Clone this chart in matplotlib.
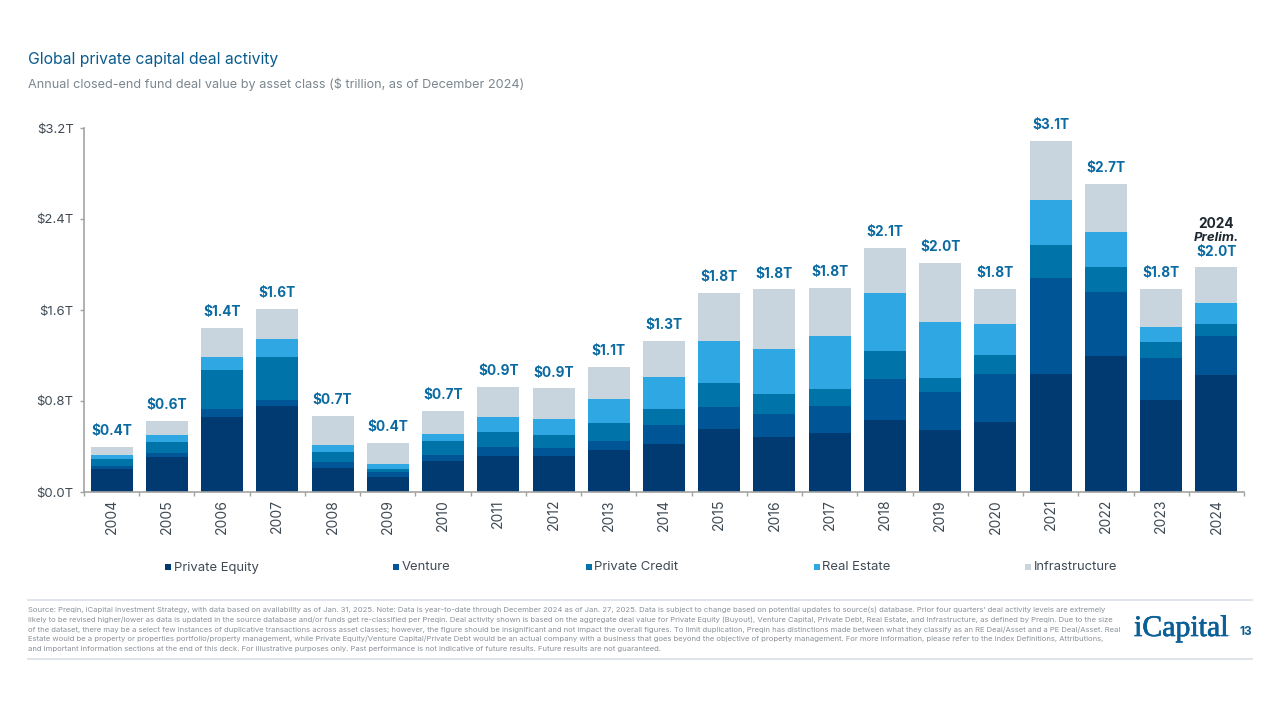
import matplotlib
matplotlib.use("Agg")
import matplotlib.pyplot as plt
import matplotlib.patheffects as pe
from matplotlib.patches import Rectangle
from matplotlib.lines import Line2D
import numpy as np

plt.rcParams["font.family"] = ["Inter", "DejaVu Sans"]

W, H = 1280, 720

# Data, $ trillion
years = [str(y) for y in range(2004, 2025)]
private_equity = [.202, .31, .662, .756, .214, .135, .27, .319, .314, .372, .422,
                  .551, .481, .516, .63, .545, .615, 1.037, 1.196, .809, 1.031]
venture = [.026, .03, .065, .053, .053, .041, .058, .076, .073, .076, .164,
           .196, .207, .243, .366, .331, .422, .841, .565, .367, .34]
private_credit = [.062, .099, .345, .381, .088, .029, .118, .129, .114, .158, .146,
                  .211, .173, .149, .244, .126, .164, .29, .22, .146, .103]
real_estate = [.038, .062, .117, .153, .062, .039, .064, .132, .143, .214, .276,
               .372, .398, .466, .507, .49, .275, .398, .302, .127, .185]
infrastructure = [.065, .126, .252, .264, .25, .185, .2, .266, .267, .279, .319,
                  .419, .522, .419, .398, .524, .31, .521, .425, .339, .316]
total_labels = ["$0.4T", "$0.6T", "$1.4T", "$1.6T", "$0.7T", "$0.4T", "$0.7T", "$0.9T",
                "$0.9T", "$1.1T", "$1.3T", "$1.8T", "$1.8T", "$1.8T", "$2.1T", "$2.0T",
                "$1.8T", "$3.1T", "$2.7T", "$1.8T", "$2.0T"]
y_ticks = [0, 0.8, 1.6, 2.4, 3.2]
y_labels = ["$0.0T", "$0.8T", "$1.6T", "$2.4T", "$3.2T"]

series = [
    ("Private Equity", private_equity, "#003a70"),
    ("Venture", venture, "#005596"),
    ("Private Credit", private_credit, "#0074a8"),
    ("Real Estate", real_estate, "#2ea7e3"),
    ("Infrastructure", infrastructure, "#c8d5df"),
]

footnote = [
    "Source: Preqin, iCapital Investment Strategy, with data based on availability as of Jan. 31, 2025. Note: Data is year-to-date through December 2024 as of Jan. 27, 2025. Data is subject to change based on potential updates to source(s) database. Prior four quarters\u2019 deal activity levels are extremely",
    "likely to be revised higher/lower as data is updated in the source database and/or funds get re-classified per Preqin. Deal activity shown is based on the aggregate deal value for Private Equity (Buyout), Venture Capital, Private Debt, Real Estate, and Infrastructure, as defined by Preqin. Due to the size",
    "of the dataset, there may be a select few instances of duplicative transactions across asset classes; however, the figure should be insignificant and not impact the overall figures. To limit duplication, Preqin has distinctions made between what they classify as an RE Deal/Asset and a PE Deal/Asset. Real",
    "Estate would be a property or properties portfolio/property management, while Private Equity/Venture Capital/Private Debt would be an actual company with a business that goes beyond the objective of property management. For more information, please refer to the Index Definitions, Attributions,",
    "and Important Information sections at the end of this deck. For illustrative purposes only. Past performance is not indicative of future results. Future results are not guaranteed.",
]


def fx(px):
    return px / W


def fy(px):
    return 1 - px / H


fig = plt.figure(figsize=(12.8, 7.2), dpi=100, facecolor="white")
ax = fig.add_axes([fx(84), fy(492), fx(1160), 364 / H])

# Stacked bars
x = np.arange(len(years))
bottom = np.zeros(len(years))
for name, values, color in series:
    ax.bar(x, values, width=0.76, bottom=bottom, color=color, linewidth=0, label=name)
    bottom += np.array(values)

# Totals above the bars
for i, label in enumerate(total_labels):
    ax.annotate(label, xy=(x[i], bottom[i]), xytext=(0, 11.4), textcoords="offset points",
                ha="center", va="center", fontsize=9.8, fontweight="bold", color="#0a6aa1")
ax.annotate("Prelim.", xy=(x[-1], bottom[-1]), xytext=(0, 20.9), textcoords="offset points",
            ha="center", va="center", fontsize=9.5, fontweight="bold", fontstyle="italic", color="#1d2730")
ax.annotate("2024", xy=(x[-1], bottom[-1]), xytext=(0, 31), textcoords="offset points",
            ha="center", va="center", fontsize=9.8, fontweight="bold", color="#1d2730")

# Axes
ax.set_xlim(-0.5, len(years) - 0.5)
ax.set_ylim(0, 3.2)
ax.set_yticks(y_ticks)
ax.set_yticklabels(y_labels, fontsize=9.5, color="#3f4a54")
ax.set_xticks(np.arange(len(years) + 1) - 0.5)
ax.set_xticklabels([])
ax.set_xticks(x, minor=True)
ax.set_xticklabels(years, minor=True, rotation=90, fontsize=10, color="#3f4a54")
ax.tick_params(axis="x", which="major", length=3, width=1, color="#a3a3a3")
ax.tick_params(axis="x", which="minor", length=0, pad=5)
ax.tick_params(axis="y", length=3, width=1, color="#a3a3a3", pad=4.5)
for side in ["top", "right"]:
    ax.spines[side].set_visible(False)
for side in ["left", "bottom"]:
    ax.spines[side].set_color("#a3a3a3")
    ax.spines[side].set_linewidth(1.2)

# Title block
fig.text(fx(28), fy(59.5), "Global private capital deal activity", fontsize=11.35,
         color="#0a5c8e", va="center", ha="left")
fig.text(fx(28), fy(84), "Annual closed-end fund deal value by asset class ($ trillion, as of December 2024)",
         fontsize=9.14, color="#7b868f", va="center", ha="left")

# Legend, entries sit at uneven spacing in the original
legend_x = [165, 393, 586, 814, 1025]
for (name, values, color), lx in zip(series, legend_x):
    fig.add_artist(Rectangle((fx(lx), fy(570)), fx(6), 6 / H, color=color, linewidth=0,
                             transform=fig.transFigure))
    fig.text(fx(lx + 8.5), fy(570.5), name, fontsize=9.4, color="#3f4a54", va="baseline", ha="left")

# Footnote
for px_y in [600, 659]:
    fig.add_artist(Line2D([fx(28), fx(1252)], [fy(px_y), fy(px_y)], color="#d5dde3",
                          linewidth=1.1, transform=fig.transFigure))
note_y = [612, 622, 632, 641.5, 651.5]
for line, ny in zip(footnote, note_y):
    fig.text(fx(28), fy(ny), line, fontsize=5.5, color="#8a9097", va="baseline", ha="left")

# Logo and page number
logo = fig.text(fx(1134), fy(629), "iCapital", fontsize=21.5, family="Liberation Serif",
                color="#0a5f96", va="center", ha="left")
logo.set_path_effects([pe.withStroke(linewidth=0.5, foreground="#0a5f96")])
fig.text(fx(1227.5), fy(636), ".", fontsize=6, color="#0a5f96", va="baseline", ha="left")
fig.text(fx(1239), fy(632), "13", fontsize=8.5, fontweight="bold", color="#0a5f96", va="center", ha="left")

fig.savefig("out.png", dpi=100)
